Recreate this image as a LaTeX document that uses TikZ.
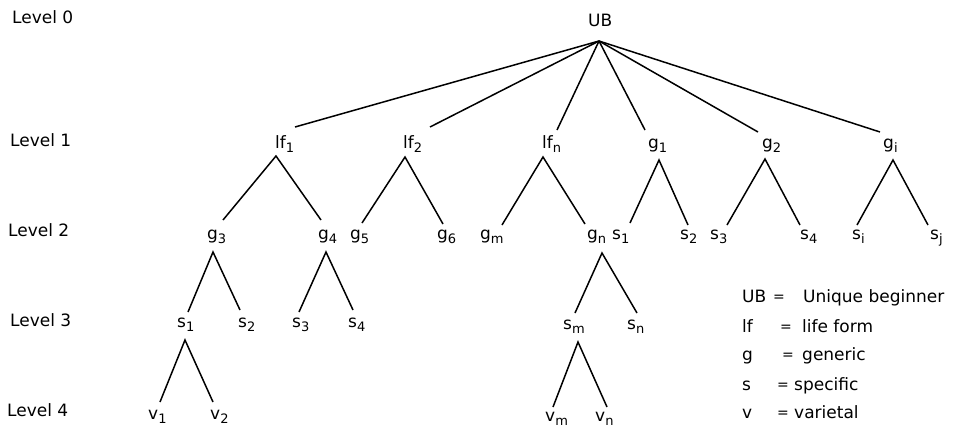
\documentclass[tikz,border=0pt]{standalone}
\usepackage{fontspec}
\setmainfont{DejaVu Sans}
\newcommand{\sbs}[1]{\raisebox{-0.28em}{\fontsize{13}{13}\selectfont #1}}
\begin{document}
\begin{tikzpicture}[x=1pt,y=-1pt,
  lbl/.style={anchor=base west,inner sep=0pt,font=\fontsize{17}{20}\selectfont},
  eq/.style={anchor=base west,inner sep=0pt,font=\fontsize{14}{20}\selectfont},
  edge/.style={line width=1.5pt,black}]
\useasboundingbox[fill=white] (0,0) rectangle (959,429);
% level labels
\node[lbl] (L0) at (12,23) {Level 0};
\node[lbl] (L1) at (10,146) {Level 1};
\node[lbl] (L2) at (8,236) {Level 2};
\node[lbl] (L3) at (10,326) {Level 3};
\node[lbl] (L4) at (7,416) {Level 4};
% level 0
\node[lbl] (UB) at (588,26) {UB};
\coordinate (UB-t) at (599,41);
% level 1
\node[lbl] (lf1) at (275,148) {lf\sbs{1}};
\node[lbl] (lf2) at (403,148) {lf\sbs{2}};
\node[lbl] (lfn) at (542,148) {lf\sbs{n}};
\node[lbl] (g1) at (648,148) {g\sbs{1}};
\node[lbl] (g2) at (762,148) {g\sbs{2}};
\node[lbl] (gi) at (883,148) {g\sbs{i}};
\coordinate (lf1-e) at (295,127); \coordinate (lf1-t) at (276,156);
\coordinate (lf2-e) at (430,127); \coordinate (lf2-t) at (405,157);
\coordinate (lfn-e) at (557,130); \coordinate (lfn-t) at (543,157);
\coordinate (g1-e) at (645,130);  \coordinate (g1-t) at (659,160);
\coordinate (g2-e) at (758,132);  \coordinate (g2-t) at (765,159);
\coordinate (gi-e) at (880,132);  \coordinate (gi-t) at (893,160);
% level 2
\node[lbl] (g3) at (207,239) {g\sbs{3}};
\node[lbl] (g4) at (318,239) {g\sbs{4}};
\node[lbl] (g5) at (350,239) {g\sbs{5}};
\node[lbl] (g6) at (437,239) {g\sbs{6}};
\node[lbl] (gm) at (480,239) {g\sbs{m}};
\node[lbl] (gn) at (587,239) {g\sbs{n}};
\node[lbl] (s1b) at (612,239) {s\sbs{1}};
\node[lbl] (s2b) at (680,239) {s\sbs{2}};
\node[lbl] (s3b) at (710,239) {s\sbs{3}};
\node[lbl] (s4b) at (800,239) {s\sbs{4}};
\node[lbl] (si) at (852,239) {s\sbs{i}};
\node[lbl] (sj) at (930,239) {s\sbs{j}};
\coordinate (g3-e) at (223,220); \coordinate (g3-t) at (213,252);
\coordinate (g4-e) at (321,220); \coordinate (g4-t) at (326,252);
\coordinate (g5-e) at (362,223);
\coordinate (g6-e) at (443,224);
\coordinate (gm-e) at (502,225);
\coordinate (gn-e) at (585,224); \coordinate (gn-t) at (602,253);
\coordinate (s1b-e) at (630,223);
\coordinate (s2b-e) at (688,225);
\coordinate (s3b-e) at (727,225);
\coordinate (s4b-e) at (800,225);
\coordinate (si-e) at (857,225);
\coordinate (sj-e) at (928,225);
% level 3
\node[lbl] (s1) at (177,327) {s\sbs{1}};
\node[lbl] (s2) at (238,327) {s\sbs{2}};
\node[lbl] (s3) at (292,327) {s\sbs{3}};
\node[lbl] (s4) at (348,327) {s\sbs{4}};
\node[lbl] (sm) at (563,329) {s\sbs{m}};
\node[lbl] (sn) at (627,329) {s\sbs{n}};
\coordinate (s1-e) at (188,312); \coordinate (s1-t) at (185,340);
\coordinate (s2-e) at (240,310);
\coordinate (s3-e) at (299,312);
\coordinate (s4-e) at (353,310);
\coordinate (sm-e) at (575,313); \coordinate (sm-t) at (578,342);
\coordinate (sn-e) at (637,313);
% level 4
\node[lbl] (v1) at (148,419) {v\sbs{1}};
\node[lbl] (v2) at (210,419) {v\sbs{2}};
\node[lbl] (vm) at (545,421) {v\sbs{m}};
\node[lbl] (vn) at (595,421) {v\sbs{n}};
\coordinate (v1-e) at (160,402);
\coordinate (v2-e) at (213,402);
\coordinate (vm-e) at (553,407);
\coordinate (vn-e) at (607,407);
% edges
\foreach \c in {lf1,lf2,lfn,g1,g2,gi} \draw[edge] (UB-t) -- (\c-e);
\draw[edge] (g3-e) -- (lf1-t) -- (g4-e);
\draw[edge] (g5-e) -- (lf2-t) -- (g6-e);
\draw[edge] (gm-e) -- (lfn-t) -- (gn-e);
\draw[edge] (s1b-e) -- (g1-t) -- (s2b-e);
\draw[edge] (s3b-e) -- (g2-t) -- (s4b-e);
\draw[edge] (si-e) -- (gi-t) -- (sj-e);
\draw[edge] (s1-e) -- (g3-t) -- (s2-e);
\draw[edge] (s3-e) -- (g4-t) -- (s4-e);
\draw[edge] (sm-e) -- (gn-t) -- (sn-e);
\draw[edge] (v1-e) -- (s1-t) -- (v2-e);
\draw[edge] (vm-e) -- (sm-t) -- (vn-e);
% legend
\node[lbl] (k1) at (742,302) {UB};
\node[eq] (q1) at (773,301) {=};
\node[lbl] (d1) at (803,302) {Unique beginner};
\node[lbl] (k2) at (742,332) {lf};
\node[eq] (q2) at (780,331) {=};
\node[lbl] (d2) at (802,332) {life form};
\node[lbl] (k3) at (742,360) {g};
\node[eq] (q3) at (782,359) {=};
\node[lbl] (d3) at (802,360) {generic};
\node[lbl] (k4) at (742,390) {s};
\node[eq] (q4) at (777,389) {=};
\node[lbl] (d4) at (794,390) {specific};
\node[lbl] (k5) at (742,418) {v};
\node[eq] (q5) at (777,417) {=};
\node[lbl] (d5) at (794,418) {varietal};
\end{tikzpicture}
\end{document}
